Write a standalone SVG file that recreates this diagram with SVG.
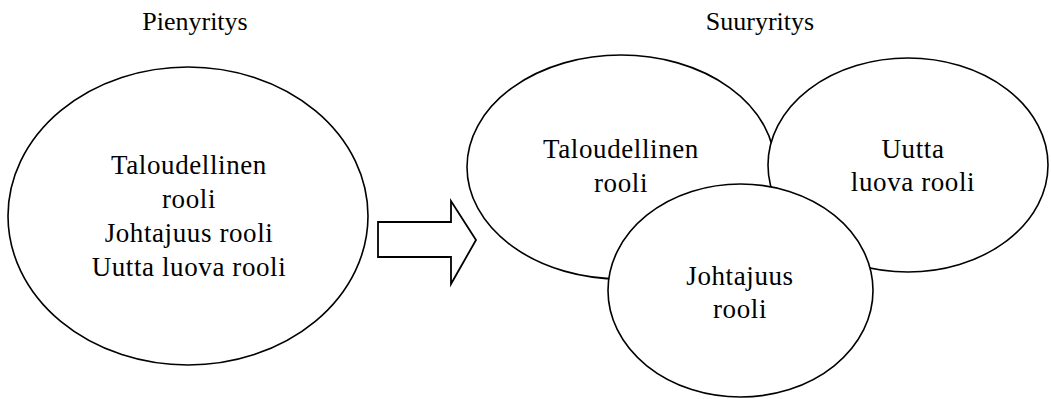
<svg xmlns="http://www.w3.org/2000/svg" width="1051" height="399" viewBox="0 0 1051 399">
<style>
.bg{fill:#fff}
.oval{fill:#fff;stroke:#000;stroke-width:1.6}
.title{font-family:"Liberation Serif",serif;font-size:26px;fill:#000;text-anchor:middle}
.lbl{font-family:"Liberation Serif",serif;font-size:27px;letter-spacing:0.6px;fill:#000;text-anchor:middle}
.arrow{fill:#fff;stroke:#000;stroke-width:1.8;stroke-linejoin:miter}
</style>
<rect class="bg" x="0" y="0" width="1051" height="399"/>
<g id="title-pien"><text class="title" x="195" y="30">Pienyritys</text></g>
<g id="title-suur"><text class="title" x="760" y="30">Suuryritys</text></g>
<g id="node-pien">
<ellipse class="oval" cx="188" cy="216" rx="180" ry="149"/>
<text class="lbl" x="189" y="174">Taloudellinen</text>
<text class="lbl" x="189" y="208">rooli</text>
<text class="lbl" x="189" y="242">Johtajuus rooli</text>
<text class="lbl" x="189" y="276">Uutta luova rooli</text>
</g>
<g id="connectors">
<polygon class="arrow" points="378,222 451,222 451,201 476,240 451,284 451,257 378,257"/>
</g>
<g id="node-talous">
<ellipse class="oval" cx="621" cy="167" rx="154" ry="112"/>
<text class="lbl" x="621" y="158">Taloudellinen</text>
<text class="lbl" x="621" y="192">rooli</text>
</g>
<g id="node-uutta">
<ellipse class="oval" cx="908" cy="165" rx="140" ry="107"/>
<text class="lbl" x="913" y="158">Uutta</text>
<text class="lbl" x="913" y="191">luova rooli</text>
</g>
<g id="node-johto">
<ellipse class="oval" cx="740.5" cy="290.5" rx="132.5" ry="106.5"/>
<text class="lbl" x="740" y="285">Johtajuus</text>
<text class="lbl" x="740" y="318">rooli</text>
</g>
</svg>
